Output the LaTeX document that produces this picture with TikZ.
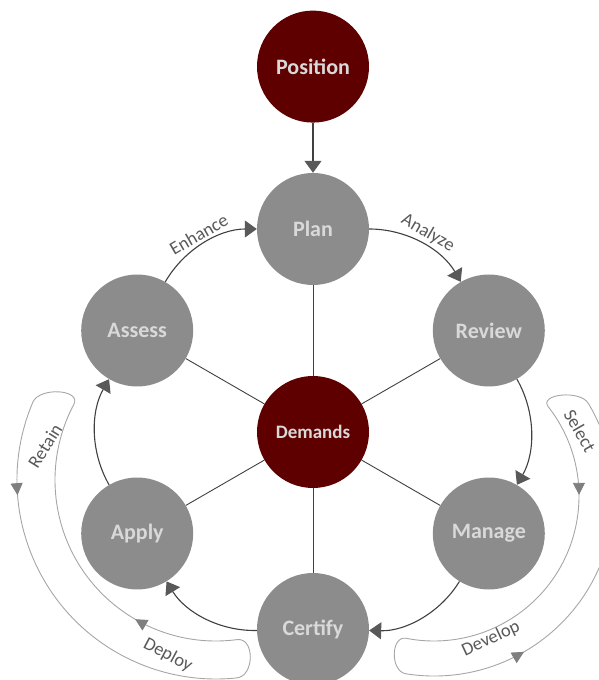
\documentclass[tikz,border=0pt]{standalone}
\usepackage{fontspec}
\setmainfont{Carlito}
\usetikzlibrary{positioning,arrows.meta,decorations.markings,calc}
\definecolor{maroon}{HTML}{5E0000}
\definecolor{stagegray}{HTML}{8C8C8C}
\definecolor{txtgray}{HTML}{D9D9D9}
\definecolor{linegray}{HTML}{404040}
\definecolor{labelgray}{HTML}{595959}
\definecolor{bandgray}{HTML}{A6A6A6}
\definecolor{tipgray}{HTML}{7F7F7F}
\tikzset{
stage/.style={
circle,
fill=stagegray,text=txtgray,
minimum size=112pt,inner sep=0pt,font={\fontsize{22pt}{24pt}\selectfont\bfseries}},
hub/.style={stage,fill=maroon},
line/.style={draw=linegray,line width=1.1pt,-{Triangle[length=12pt,width=17pt,color=labelgray]}},
spoke/.style={draw=linegray,line width=0.9pt},
band/.style={draw=bandgray,line width=0.9pt},
bandtip/.style={postaction={decorate},decoration={markings,mark=at position #1 with {\arrow{Triangle[length=12pt,width=12pt,color=tipgray]}}}},
lbl/.style={text=labelgray,font={\fontsize{18.5pt}{20pt}\selectfont}}
}

\begin{document}
\begin{tikzpicture}[x=1pt,y=1pt]
  \useasboundingbox (-313,-248) rectangle (285,432);
  \node[hub,font={\fontsize{19pt}{21pt}\selectfont\bfseries}] (demands) at (0,0) {Demands};
  \node[stage] (plan) at (90:203) {Plan};
  \node[stage] (review) at (30:203) {Review};
  \node[stage] (manage) at (-30:203) {Manage};
  \node[stage] (certify) at (-90:197) {Certify};
  \node[stage] (apply) at (210:203) {Apply};
  \node[stage] (assess) at (150:203) {Assess};
  \node[hub, above=50pt of plan] (position) {Position};
  \draw[line] (position) -- (plan);
  \draw[spoke] (demands) -- (plan);
  \draw[spoke] (demands) -- (review);
  \draw[spoke] (demands) -- (manage);
  \draw[spoke] (demands) -- (certify);
  \draw[spoke] (demands) -- (apply);
  \draw[spoke] (demands) -- (assess);
  \draw[line] (plan) to[bend left=30,looseness=0.91] node[lbl,sloped,above] {Analyze} (review);
  \draw[line] (review) to[bend left=30,looseness=0.91] (manage);
  \draw[line] (manage) to[bend left=30,looseness=0.91] (certify);
  \draw[line] (certify) to[bend left=30,looseness=0.91] (apply);
  \draw[line] (apply) to[bend left=30,looseness=0.91] (assess);
  \draw[line] (assess) to[bend left=30,looseness=0.91] node[lbl,sloped,above] {Enhance} (plan);
  % left band
  \coordinate (lb) at (-97,-48);
  \draw[band,bandtip=0.23] ($(lb)+(157:199)$) arc[start angle=157,end angle=276,radius=199];
  \draw[band,bandtip=0.30] ($(lb)+(277.5:161)$) arc[start angle=277.5,end angle=152,radius=161];
  \draw[band] ($(lb)+(152:161)$) .. controls +(62:17) and +(67:17) .. ($(lb)+(157:199)$);
  \draw[band] ($(lb)+(276:199)$) .. controls +(6:18) and +(7.5:18) .. ($(lb)+(277.5:161)$);
  \node[lbl,rotate=58] (retain) at (-268,-14) {Retain};
  \node[lbl,rotate=-28] (deploy) at (-145,-223) {Deploy};
  % right band
  \coordinate (rb) at (121,-64);
  \draw[band,bandtip=0.30] ($(rb)+(-99:180)$) arc[start angle=-99,end angle=31,radius=180];
  \draw[band,bandtip=0.27] ($(rb)+(38:145)$) arc[start angle=38,end angle=-101,radius=145];
  \draw[band] ($(rb)+(31:180)$) .. controls +(121:16) and +(128:16) .. ($(rb)+(38:145)$);
  \draw[band] ($(rb)+(-99:180)$) .. controls +(171:16) and +(169:16) .. ($(rb)+(-101:145)$);
  \node[lbl,rotate=-60] (select) at (267,1) {Select};
  \node[lbl,rotate=25] (develop) at (178,-207) {Develop};
\end{tikzpicture}
\end{document}
